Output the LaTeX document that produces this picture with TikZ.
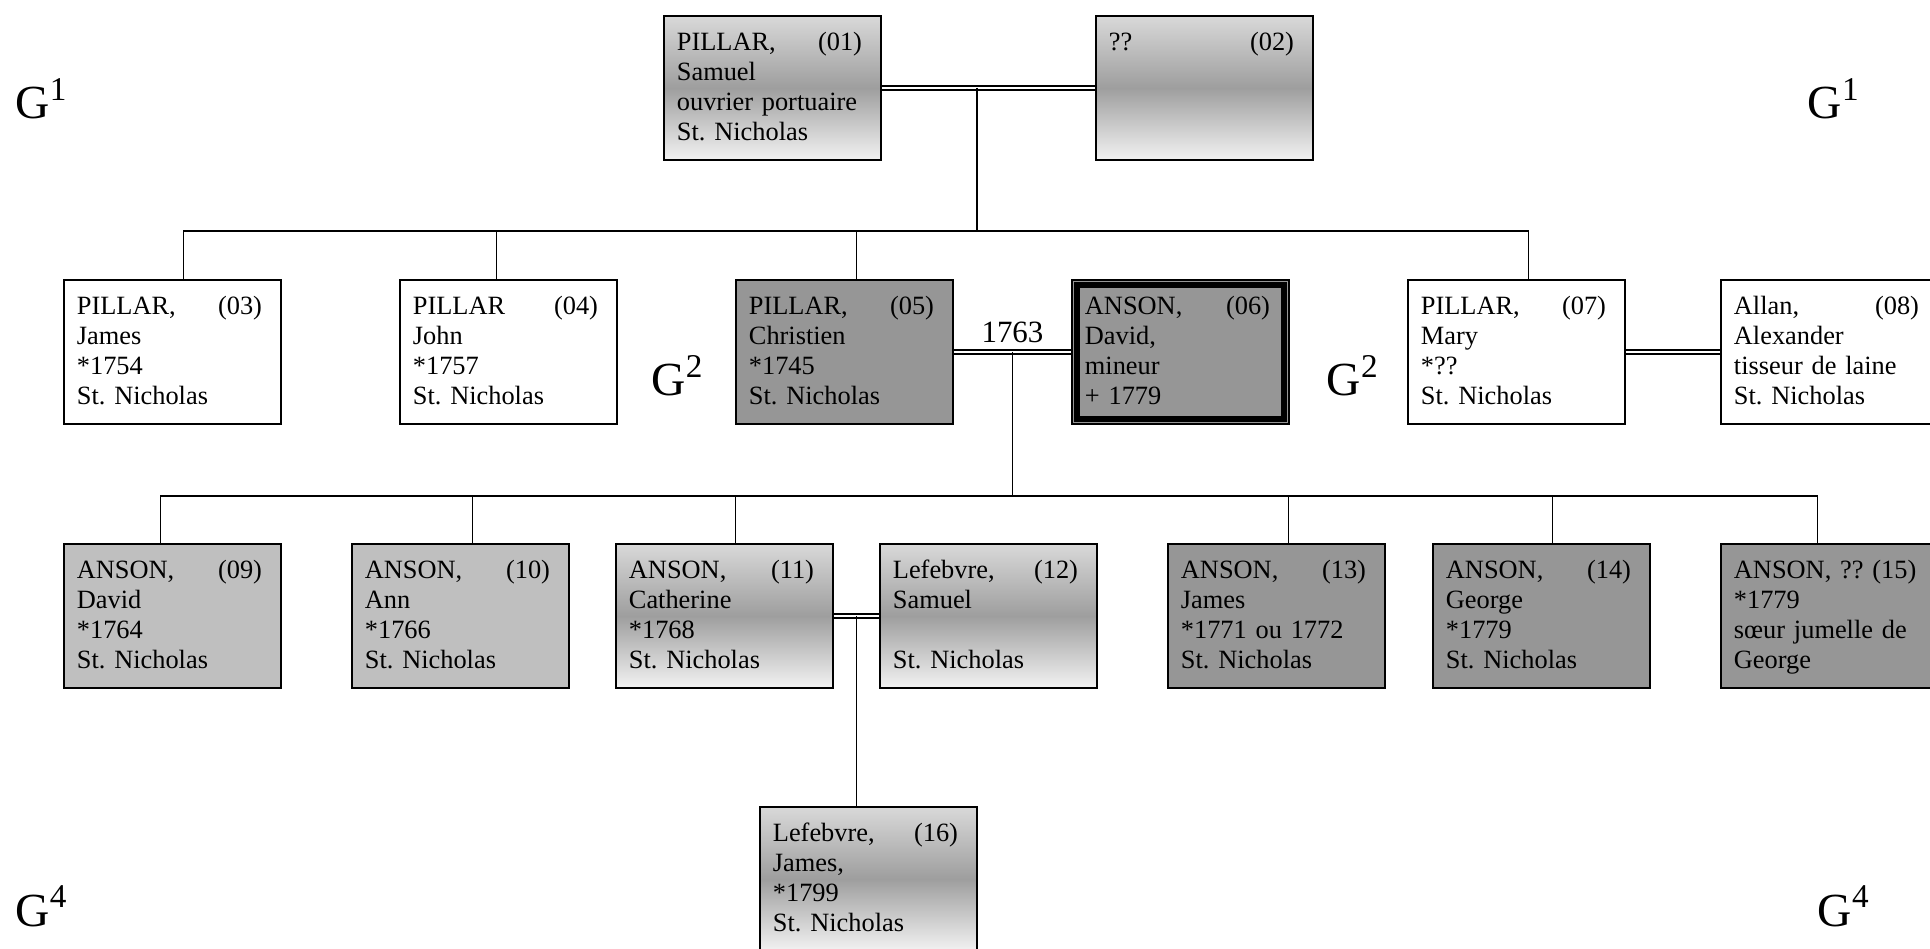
\documentclass[tikz,border=0pt]{standalone}
\usepackage{fontspec}
\setmainfont{Liberation Serif}
\usepackage{tikz}
\usetikzlibrary{calc}
\frenchspacing

\newcommand{\entry}[5]{\makebox[1.85cm][l]{\rule{0pt}{0.23cm}#1\hfill#2}\\\mbox{}#3\\\mbox{}#4\\\mbox{}#5\rule[-0.07cm]{0pt}{0.07cm}}

\tikzset{
  person/.style={draw, line width=0.018cm, anchor=north west, inner xsep=0.13cm, inner ysep=0pt,
    text width=1.91cm, minimum width=2.17cm, minimum height=1.44cm, align=left,
    font=\fontsize{7.5}{8.54}\selectfont},
  whitebox/.style={person, fill=white},
  lightbox/.style={person, fill=black!25},
  darkbox/.style={person, fill=black!41},
  shadebox/.style={person, top color=black!15, bottom color=black!5, middle color=black!38},
  marriage/.style={double, double distance=0.028cm, line width=0.018cm},
  descent/.style={line width=0.016cm},
  gen/.style={anchor=base west, inner sep=0pt, font=\fontsize{13.5}{16}\selectfont},
  year/.style={anchor=base, inner sep=0pt, font=\fontsize{8.8}{10}\selectfont}
}

\begin{document}
\begin{tikzpicture}[x=0.01cm, y=-0.01cm]
  \useasboundingbox (0,0) rectangle (1930,949);
  \clip (0,0) rectangle (1930,949);
  % persons, one per box
  \foreach \n/\x/\y/\s/\a/\b/\c/\d/\e in {
    01/663/15/shadebox/{PILLAR,}/(01)/Samuel/ouvrier portuaire/St. Nicholas,
    02/1095/15/shadebox/??/(02)/{}/{}/{},
    03/63/279/whitebox/{PILLAR,}/(03)/James/*1754/St. Nicholas,
    04/399/279/whitebox/PILLAR/(04)/John/*1757/St. Nicholas,
    05/735/279/darkbox/{PILLAR,}/(05)/Christien/*1745/St. Nicholas,
    06/1071/279/darkbox/{ANSON,}/(06)/{David,}/mineur/+ 1779,
    07/1407/279/whitebox/{PILLAR,}/(07)/Mary/*??/St. Nicholas,
    08/1720/279/whitebox/{Allan,}/(08)/Alexander/tisseur de laine/St. Nicholas,
    09/63/543/lightbox/{ANSON,}/(09)/David/*1764/St. Nicholas,
    10/351/543/lightbox/{ANSON,}/(10)/Ann/*1766/St. Nicholas,
    11/615/543/shadebox/{ANSON,}/(11)/Catherine/*1768/St. Nicholas,
    12/879/543/shadebox/{Lefebvre,}/(12)/Samuel/{}/St. Nicholas,
    13/1167/543/darkbox/{ANSON,}/(13)/James/*1771 ou 1772/St. Nicholas,
    14/1432/543/darkbox/{ANSON,}/(14)/George/*1779/St. Nicholas,
    15/1720/543/darkbox/{ANSON, ??~(15)}/{}/*1779/sœur jumelle de/George,
    16/759/806/shadebox/{Lefebvre,}/(16)/{James,}/*1799/St. Nicholas}{
    \node[\s] (p\n) at (\x,\y) {\entry{\a}{\b}{\c}{\d}{\e}};
  }
  \draw[line width=0.06cm] ([shift={(0.06cm,-0.06cm)}]p06.north west) rectangle ([shift={(-0.06cm,0.06cm)}]p06.south east);

  % couples
  \draw[marriage] (p01) -- (p02);
  \draw[marriage] (p05) -- (p06);
  \draw[marriage] (p07) -- (p08);
  \draw[marriage] (p11) -- (p12);
  \node[year] (yr) at ([yshift=0.09cm]$(p05.east)!0.5!(p06.west)$) {1763};

  % descent lines
  \coordinate (m1) at ($(p01.east)!0.447!(p02.west)$);
  \coordinate (m2) at ($(p05.east)!0.5!(p06.west)$);
  \coordinate (m3) at ($(p11.east)!0.5!(p12.west)$);
  \coordinate (d1) at ([yshift=-1.43cm]m1);
  \coordinate (d2) at ([yshift=-1.44cm]m2);
  \draw[descent] (m1) -- (d1);
  \draw[descent] (m2) -- (d2);
  \draw[descent] (m3) -- (m3 |- p16.north);
  \foreach \c/\dx in {p03/0.11, p04/-0.12, p05/0.12, p07/0.12}
    \draw[descent] ([xshift=\dx cm]\c.north) |- (d1);
  \foreach \c/\dx in {p09/-0.12, p10/0.12, p11/0.11, p13/0.12, p14/0.11, p15/-0.12}
    \draw[descent] ([xshift=\dx cm]\c.north) |- (d2);

  % generations
  \node[gen] (g1l) at (15,119) {G\textsuperscript{1}};
  \node[gen] (g1r) at (1807,119) {G\textsuperscript{1}};
  \node[gen] (g2l) at (651,396) {G\textsuperscript{2}};
  \node[gen] (g2r) at (1326,396) {G\textsuperscript{2}};
  \node[gen] (g4l) at (15,926) {G\textsuperscript{4}};
  \node[gen] (g4r) at (1817,926) {G\textsuperscript{4}};
\end{tikzpicture}
\end{document}
